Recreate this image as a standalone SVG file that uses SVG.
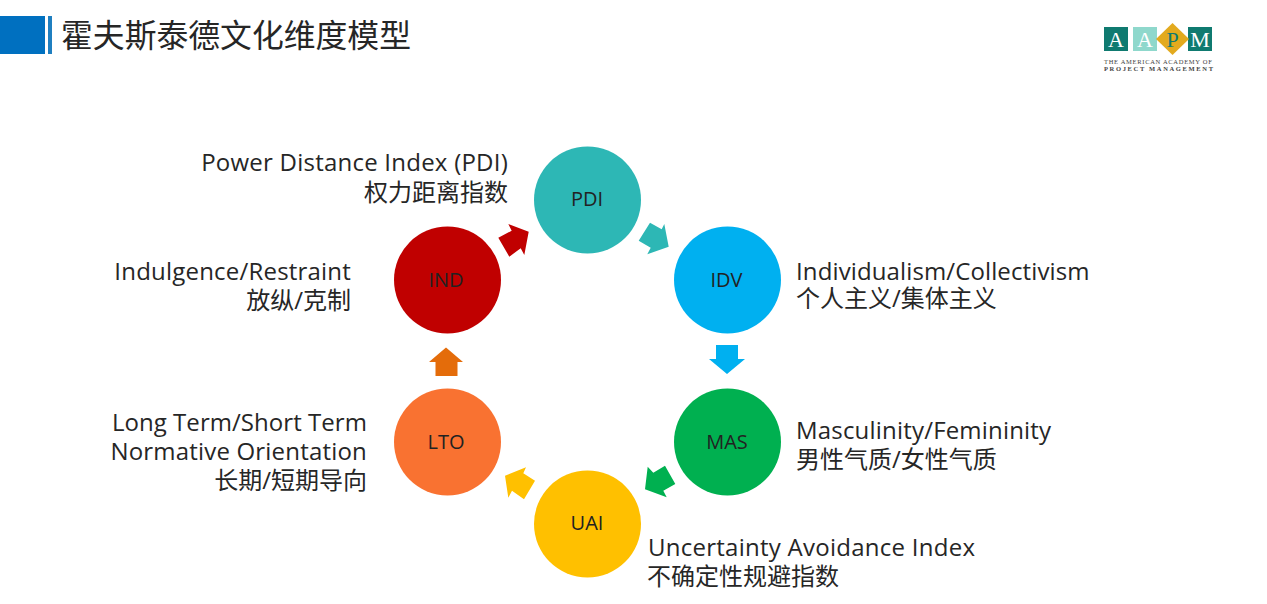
<svg xmlns="http://www.w3.org/2000/svg" width="1267" height="604" viewBox="0 0 1267 604">
<style>
text{font-family:"Open Sans","Noto Sans CJK SC","Noto Sans",sans-serif;fill:#262626}
.lab{font-size:24px}
.node{font-size:20px;text-anchor:middle;fill:#222}
.e{text-anchor:end}
.logo{font-family:"Liberation Serif",serif;fill:#fff;font-size:22px;text-anchor:middle}
.tiny{font-family:"Liberation Serif",serif;fill:#444;font-size:6.500px}
</style>
<rect width="1267" height="604" fill="#fff"/>
<g id="header">
<rect x="0" y="16" width="45" height="38" fill="#0070c0"/>
<rect x="48" y="16" width="4" height="38" fill="#1f7fc0"/>
<text x="61" y="47" font-size="31.600" textLength="350" lengthAdjust="spacingAndGlyphs">霍夫斯泰德文化维度模型</text>
</g>
<g id="logo">
<rect x="1104" y="27" width="24" height="24" fill="#0f7a70"/>
<rect x="1133" y="27" width="24" height="24" fill="#8fd8cc"/>
<rect x="1188" y="27" width="24" height="24" fill="#0f7a70"/>
<polygon points="1172.500,23 1189,39 1172.500,55 1156,39" fill="#e3aa1e"/>
<text class="logo" x="1116" y="47">A</text>
<text class="logo" x="1145" y="47">A</text>
<text class="logo" x="1172.500" y="47" style="fill:#0f7a70">P</text>
<text class="logo" x="1200" y="47">M</text>
<text class="tiny"><tspan x="1104" y="63.500" letter-spacing="0.700">THE AMERICAN ACADEMY OF</tspan><tspan x="1104" y="70.500" letter-spacing="1.650" font-weight="bold">PROJECT MANAGEMENT</tspan></text>
</g>
<g id="connectors">
<polygon fill="#c00000" points="498.300,237.700 511.700,230.700 508.300,224 528.700,231.700 524.300,255 520.700,248.300 509.300,256.700"/>
<polygon fill="#2db7b5" points="650,222.700 661.700,229.300 664.300,224 668.700,246.700 647.300,254.300 650.700,247.700 638.700,240.700"/>
<polygon fill="#00b0f0" points="716,345 738,345 738,359 745,359 727,374 709,359 716,359"/>
<polygon fill="#00b050" points="647.700,466.700 653.300,472.700 665,465.700 675.300,484 663.300,490.700 666.700,497.300 645,489.300"/>
<polygon fill="#ffc000" points="505,475.700 526,467.300 523.300,473.300 535,480.700 524,499.300 512,490.700 508.300,497.700"/>
<polygon fill="#e46c0a" points="446,347.500 463,362 457.500,362 457.500,376 435.500,376 435.500,362 429,362"/>
</g>
<g id="PDI"><circle cx="587.500" cy="200" r="53.500" fill="#2db7b5"/><text class="node" x="587" y="206">PDI</text>
<text class="lab e"><tspan x="508" y="171" letter-spacing="0.230">Power Distance Index (PDI)</tspan><tspan x="508" y="201">权力距离指数</tspan></text></g>
<g id="IDV"><circle cx="727.500" cy="280" r="53.500" fill="#00b0f0"/><text class="node" x="726.500" y="287">IDV</text>
<text class="lab"><tspan x="796" y="280" letter-spacing="0.120">Individualism/Collectivism</tspan><tspan x="796" y="307">个人主义/集体主义</tspan></text></g>
<g id="MAS"><circle cx="727.500" cy="442" r="53.500" fill="#00b050"/><text class="node" x="727" y="449">MAS</text>
<text class="lab"><tspan x="796" y="439" letter-spacing="0.190">Masculinity/Femininity</tspan><tspan x="796" y="468">男性气质/女性气质</tspan></text></g>
<g id="UAI"><circle cx="587.500" cy="524" r="53.500" fill="#ffc000"/><text class="node" x="587" y="530">UAI</text>
<text class="lab"><tspan x="648" y="556" letter-spacing="0.260">Uncertainty Avoidance Index</tspan><tspan x="647" y="585">不确定性规避指数</tspan></text></g>
<g id="LTO"><circle cx="447.500" cy="442" r="53.500" fill="#f97231"/><text class="node" x="446" y="449">LTO</text>
<text class="lab e"><tspan x="367" y="431" letter-spacing="0.050">Long Term/Short Term</tspan><tspan x="367" y="460" letter-spacing="0.190">Normative Orientation</tspan><tspan x="367" y="489">长期/短期导向</tspan></text></g>
<g id="IND"><circle cx="447.500" cy="280" r="53.500" fill="#c00000"/><text class="node" x="446" y="287">IND</text>
<text class="lab e"><tspan x="351" y="280" letter-spacing="0.200">Indulgence/Restraint</tspan><tspan x="351" y="309">放纵/克制</tspan></text></g>
</svg>
